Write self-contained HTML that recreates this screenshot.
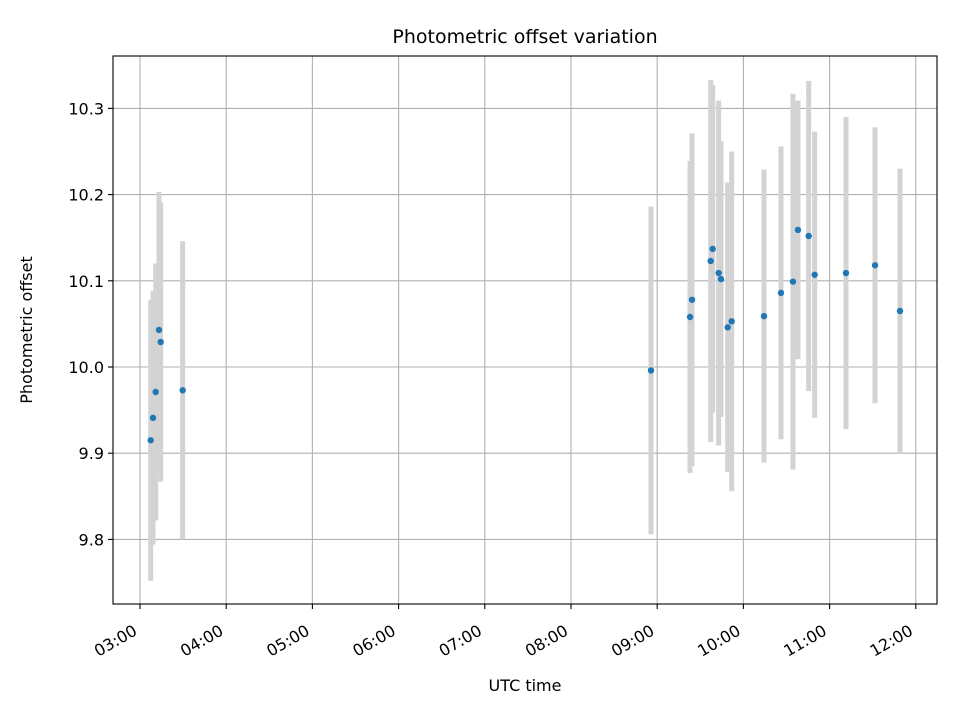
<!DOCTYPE html>
<html><head><meta charset="utf-8"><style>
html,body{margin:0;padding:0;background:#fff}
svg text{font-family:"DejaVu Sans","Liberation Sans",sans-serif;fill:#000}
</style></head><body>
<svg id="chart" width="960" height="720" xmlns="http://www.w3.org/2000/svg">
<rect x="0" y="0" width="960" height="720" fill="#fff"/>
<g id="grid"></g>
<g id="bars"></g>
<g id="pts"></g>
<rect x="113" y="56" width="824" height="548" fill="none" stroke="#000" stroke-width="1.1"/>
<g id="ticks"></g>
<text x="525" y="43" font-size="19" text-anchor="middle">Photometric offset variation</text>
<text x="525" y="691" font-size="16" text-anchor="middle">UTC time</text>
<text transform="translate(32,330) rotate(-90)" font-size="16" text-anchor="middle">Photometric offset</text>
</svg>
<script>
const times = [3.124,3.151,3.182,3.220,3.240,3.495,8.928,9.381,9.404,9.621,9.644,9.713,9.740,9.818,9.864,10.239,10.436,10.575,10.633,10.757,10.827,11.190,11.527,11.817];
const offsets = [9.915,9.941,9.971,10.043,10.029,9.973,9.996,10.058,10.078,10.123,10.137,10.109,10.102,10.046,10.053,10.059,10.086,10.099,10.159,10.152,10.107,10.109,10.118,10.065];
const errors = [0.163,0.147,0.149,0.160,0.162,0.173,0.190,0.181,0.193,0.210,0.190,0.200,0.160,0.168,0.197,0.170,0.170,0.218,0.150,0.180,0.166,0.181,0.160,0.165];
const xTicks = [3,4,5,6,7,8,9,10,11,12];
const xTickLabels = ["03:00","04:00","05:00","06:00","07:00","08:00","09:00","10:00","11:00","12:00"];
const yTicks = [9.8,9.9,10.0,10.1,10.2,10.3];
const yTickLabels = ["9.8","9.9","10.0","10.1","10.2","10.3"];

const NS="http://www.w3.org/2000/svg";
const X = t => 140 + (t-3)*86.2;
const Y = v => 367 - (v-10.0)*862;
function mk(tag, attrs, parent){const e=document.createElementNS(NS,tag);for(const k in attrs)e.setAttribute(k,attrs[k]);parent.appendChild(e);return e;}
const grid=document.getElementById('grid'), ticks=document.getElementById('ticks'), bars=document.getElementById('bars'), pts=document.getElementById('pts');
xTicks.forEach((t,i)=>{
  const x=X(t);
  const g=mk('line',{x1:x,x2:x,y1:56,y2:604,stroke:'#b0b0b0','stroke-width':1.1},grid);
  
  
  const tk=mk('line',{x1:x,x2:x,y1:604,y2:609,stroke:'#000','stroke-width':1.1},ticks);
  
  
  const lb=mk('text',{transform:`translate(${x-4},${630}) rotate(-30)`,'font-size':16,'text-anchor':'end','dominant-baseline':'middle'},ticks);
  lb.textContent=xTickLabels[i];
  
  
});
yTicks.forEach((v,i)=>{
  const y=Y(v);
  const g=mk('line',{x1:113,x2:937,y1:y,y2:y,stroke:'#b0b0b0','stroke-width':1.1},grid);
  
  
  const tk=mk('line',{x1:108,x2:113,y1:y,y2:y,stroke:'#000','stroke-width':1.1},ticks);
  
  
  const lb=mk('text',{x:104,y:y+6,'font-size':16,'text-anchor':'end'},ticks);
  lb.textContent=yTickLabels[i];
  
  
});
times.forEach((t,i)=>{
  const x=X(t);
  const b=mk('line',{x1:x,x2:x,y1:Y(offsets[i]+errors[i]),y2:Y(offsets[i]-errors[i]),stroke:'#d3d3d3','stroke-width':5},bars);
  
  
  const c=mk('circle',{cx:x,cy:Y(offsets[i]),r:3.2,fill:'#1f77b4'},pts);
  
  
});
</script>
</body></html>
